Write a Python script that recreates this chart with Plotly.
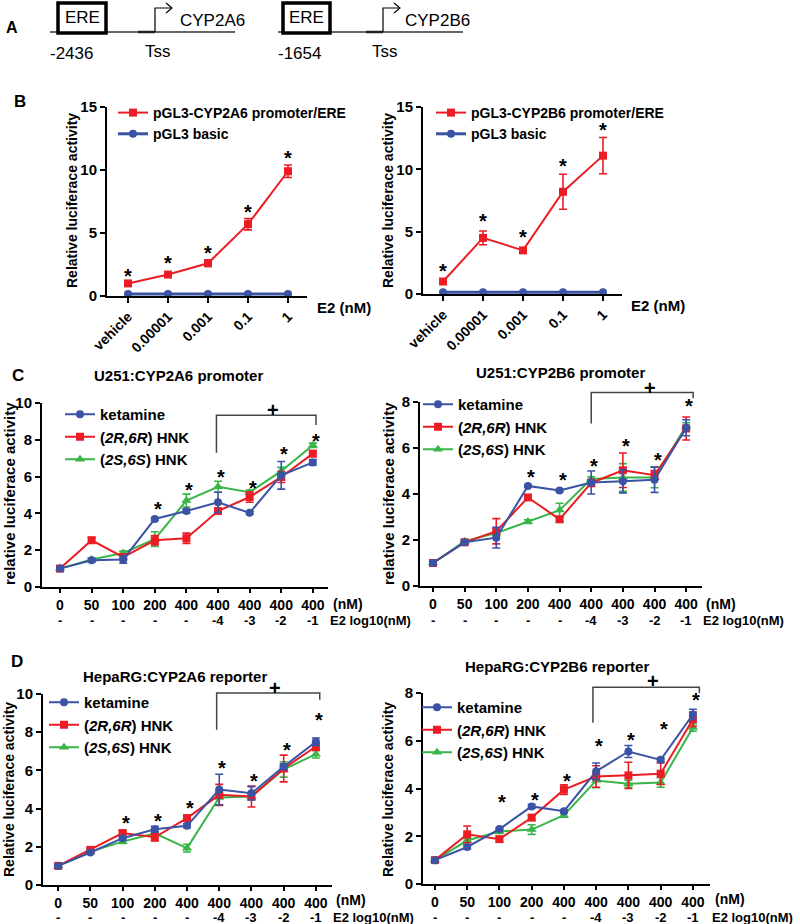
import plotly.graph_objects as go

W, H = 800, 924
def px(x): return x / W
def py(y): return 1 - y / H

RED = "#EC1C24"
BLUE = "#3A53A4"
GREEN = "#39B54A"
FONT = "Liberation Sans, Arial, sans-serif"
NARROW = "Liberation Sans Narrow, Arial Narrow, Liberation Sans, Arial, sans-serif"

# ---------------- DATA ----------------
b_categories = ["vehicle", "0.00001", "0.001", "0.1", "1"]
b_2a6_ere = [1.0, 1.7, 2.6, 5.7, 9.9]
b_2a6_ere_err = [0.1, 0.15, 0.25, 0.45, 0.5]
b_2a6_basic = [0.15, 0.15, 0.15, 0.15, 0.15]
b_2a6_stars = [1.9, 2.9, 3.7, 7.0, 11.3]
b_2b6_ere = [1.0, 4.5, 3.5, 8.2, 11.1]
b_2b6_ere_err = [0.1, 0.55, 0.2, 1.4, 1.45]
b_2b6_basic = [0.15, 0.15, 0.15, 0.15, 0.15]
b_2b6_stars = [2.2, 6.2, 4.9, 10.6, 13.5]

conc_labels = ["0", "50", "100", "200", "400", "400", "400", "400", "400"]
e2_labels = ["-", "-", "-", "-", "-", "-4", "-3", "-2", "-1"]

c1_ket = [1.0, 1.45, 1.5, 3.7, 4.13, 4.6, 4.03, 6.07, 6.77]
c1_ket_err = [0.05, 0.1, 0.2, 0.08, 0.1, 0.55, 0.08, 0.75, 0.15]
c1_rr = [1.0, 2.54, 1.63, 2.54, 2.65, 4.13, 4.89, 5.98, 7.25]
c1_rr_err = [0.05, 0.15, 0.1, 0.25, 0.28, 0.15, 0.28, 0.3, 0.15]
c1_ss = [1.0, 1.5, 1.85, 2.6, 4.7, 5.45, 5.15, 6.3, 7.7]
c1_ss_err = [0.05, 0.08, 0.1, 0.4, 0.35, 0.3, 0.12, 0.2, 0.12]
c1_star_idx = [3, 4, 5, 6, 7, 8]
c1_star_y = [4.44, 5.49, 6.2, 5.62, 7.46, 8.15]
c1_bracket = (4.95, 8.1, 7.3, 9.33, 8.8)
c1_plus = (6.75, 9.6)

c2_ket = [1.0, 1.9, 2.1, 4.35, 4.15, 4.5, 4.55, 4.62, 6.88]
c2_ket_err = [0.05, 0.05, 0.45, 0.05, 0.05, 0.5, 0.5, 0.55, 0.35]
c2_rr = [1.0, 1.9, 2.38, 3.85, 2.9, 4.48, 5.03, 4.82, 6.85]
c2_rr_err = [0.05, 0.08, 0.55, 0.1, 0.1, 0.15, 0.75, 0.2, 0.5]
c2_ss = [1.0, 1.95, 2.3, 2.8, 3.3, 4.65, 4.72, 4.72, 6.95]
c2_ss_err = [0.05, 0.05, 0.1, 0.08, 0.3, 0.1, 0.6, 0.45, 0.15]
c2_star_idx = [3, 4, 5, 6, 7, 8]
c2_star_y = [4.93, 4.78, 5.4, 6.28, 5.65, 8.0]
c2_bracket = (5.0, 8.22, 7.07, 8.41, 8.16)
c2_plus = (6.86, 8.6)

d1_ket = [1.0, 1.7, 2.45, 2.92, 3.1, 5.0, 4.8, 6.2, 7.5]
d1_ket_err = [0.05, 0.05, 0.1, 0.15, 0.1, 0.8, 0.35, 0.15, 0.2]
d1_rr = [1.0, 1.84, 2.72, 2.5, 3.5, 4.72, 4.63, 6.1, 7.25]
d1_rr_err = [0.05, 0.08, 0.12, 0.2, 0.15, 0.55, 0.55, 0.7, 0.2]
d1_ss = [1.0, 1.75, 2.27, 2.7, 1.93, 4.58, 4.63, 6.05, 6.85]
d1_ss_err = [0.05, 0.05, 0.1, 0.1, 0.2, 0.4, 0.15, 0.4, 0.2]
d1_star_idx = [2, 3, 4, 5, 6, 7, 8]
d1_star_y = [3.46, 3.58, 4.23, 6.33, 5.63, 7.26, 8.83]
d1_bracket = (4.92, 8.12, 8.13, 10.05, 9.7)
d1_plus = (6.73, 10.3)

d2_ket = [1.0, 1.55, 2.3, 3.25, 3.05, 4.72, 5.55, 5.2, 7.1]
d2_ket_err = [0.05, 0.08, 0.05, 0.08, 0.05, 0.35, 0.25, 0.08, 0.22]
d2_rr = [1.0, 2.08, 1.88, 2.78, 3.95, 4.5, 4.55, 4.62, 6.9]
d2_rr_err = [0.05, 0.35, 0.1, 0.1, 0.2, 0.45, 0.55, 0.45, 0.3]
d2_ss = [1.0, 1.82, 2.2, 2.28, 2.88, 4.33, 4.2, 4.25, 6.55]
d2_ss_err = [0.05, 0.08, 0.08, 0.2, 0.08, 0.3, 0.15, 0.2, 0.15]
d2_star_idx = [2, 3, 4, 5, 6, 7, 8]
d2_star_y = [3.6, 3.7, 4.47, 5.94, 6.19, 6.68, 7.86]
d2_bracket = (4.9, 8.2, 6.75, 8.24, 8.0)
d2_plus = (6.77, 8.5)

series_names = ["ketamine", "(<i>2R,6R</i>) HNK", "(<i>2S,6S</i>) HNK"]

# ---------------- LAYOUT GEOMETRY (pixels) ----------------
panels = [
    dict(ax="", xd=(107, 307), yd=(107, 296), xr=[-0.525, 4.475], yr=[0, 15], dt=5),
    dict(ax="2", xd=(423, 622), yd=(107, 294), xr=[-0.5, 4.475], yr=[0, 15], dt=5),
    dict(ax="3", xd=(42, 328), yd=(403, 587), xr=[-0.57, 8.48], yr=[0, 10], dt=2, row2=620),
    dict(ax="4", xd=(420, 702), yd=(402, 586), xr=[-0.41, 8.5], yr=[0, 8], dt=2, row2=620),
    dict(ax="5", xd=(43, 332), yd=(694, 885), xr=[-0.47, 8.5], yr=[0, 10], dt=2, row2=917),
    dict(ax="6", xd=(423, 710), yd=(693, 884), xr=[-0.37, 8.53], yr=[0, 8], dt=2, row2=917),
]

def vy(v, p):
    top, bot = p["yd"]
    r0, r1 = p["yr"]
    return py(bot - (v - r0) / (r1 - r0) * (bot - top))

fig = go.Figure()

def err(a):
    return dict(type="data", array=a, visible=True, thickness=1.6, width=4)

# Panel B traces
for i, (ere, ere_err, basic, lname) in enumerate([
        (b_2a6_ere, b_2a6_ere_err, b_2a6_basic, "pGL3-CYP2A6 promoter/ERE"),
        (b_2b6_ere, b_2b6_ere_err, b_2b6_basic, "pGL3-CYP2B6 promoter/ERE")]):
    ax = panels[i]["ax"]
    leg = "legend" if i == 0 else "legend2"
    fig.add_trace(go.Scatter(x=b_categories, y=ere, error_y=err(ere_err), name=lname,
                             mode="lines+markers", line=dict(color=RED, width=2),
                             marker=dict(symbol="square", size=8, color=RED),
                             xaxis="x" + ax, yaxis="y" + ax, legend=leg, cliponaxis=False))
    fig.add_trace(go.Scatter(x=b_categories, y=basic, name="pGL3 basic",
                             mode="lines+markers", line=dict(color=BLUE, width=3),
                             marker=dict(symbol="circle", size=8, color=BLUE),
                             xaxis="x" + ax, yaxis="y" + ax, legend=leg, cliponaxis=False))

# Panels C, D traces
cd_data = [
    (c1_ket, c1_ket_err, c1_rr, c1_rr_err, c1_ss, c1_ss_err),
    (c2_ket, c2_ket_err, c2_rr, c2_rr_err, c2_ss, c2_ss_err),
    (d1_ket, d1_ket_err, d1_rr, d1_rr_err, d1_ss, d1_ss_err),
    (d2_ket, d2_ket_err, d2_rr, d2_rr_err, d2_ss, d2_ss_err),
]
xidx = list(range(len(conc_labels)))
for k, (ket, ket_e, rr, rr_e, ss, ss_e) in enumerate(cd_data):
    p = panels[k + 2]
    ax = p["ax"]
    leg = "legend" + str(k + 3)
    for vals, e, color, sym, size, name, rank in [
            (ss, ss_e, GREEN, "triangle-up", 9, series_names[2], 3),
            (rr, rr_e, RED, "square", 8, series_names[1], 2),
            (ket, ket_e, BLUE, "circle", 8, series_names[0], 1)]:
        fig.add_trace(go.Scatter(x=xidx, y=vals, error_y=err(e), name=name,
                                 mode="lines+markers", line=dict(color=color, width=2),
                                 marker=dict(symbol=sym, size=size, color=color),
                                 xaxis="x" + ax, yaxis="y" + ax, legend=leg,
                                 legendrank=rank, cliponaxis=False))

# Axes
layout_axes = {}
for k, p in enumerate(panels):
    ax = p["ax"]
    common = dict(showline=True, linecolor="black", linewidth=2, ticks="outside",
                  ticklen=5, tickwidth=2, tickcolor="black", showgrid=False,
                  zeroline=False, fixedrange=True, automargin=False)
    xa = dict(common, domain=[px(p["xd"][0]), px(p["xd"][1])], anchor="y" + ax,
              range=p["xr"])
    if k < 2:
        xa.update(type="category", tickangle=-45, tickfont=dict(size=14))
    else:
        xa.update(type="linear", tickvals=xidx, ticktext=conc_labels,
                  tickfont=dict(size=14), ticklen=4)
    ya = dict(common, domain=[py(p["yd"][1]), py(p["yd"][0])], anchor="x" + ax,
              range=p["yr"], dtick=p["dt"], tick0=0, tickfont=dict(size=15))
    layout_axes["xaxis" + ax] = xa
    layout_axes["yaxis" + ax] = ya

fig.update_layout(**layout_axes)

# Legends
legend_pos = [
    ("legend", 113, 97, 14),
    ("legend2", 431, 97, 14),
    ("legend3", 60, 398, 15),
    ("legend4", 418, 388, 15),
    ("legend5", 44, 686, 15),
    ("legend6", 417, 691, 15),
]
for name, lx, ly, fs in legend_pos:
    fig.update_layout(**{name: dict(x=px(lx), y=py(ly), xanchor="left", yanchor="top",
                                    bgcolor="rgba(0,0,0,0)", font=dict(size=fs),
                                    tracegroupgap=0, itemwidth=30,
                                    traceorder="normal")})

annotations = []
shapes = []

def ann(x, y, text, size, xref="paper", yref="paper", weight="bold", family=FONT, **kw):
    d = dict(x=x, y=y, text=text, xref=xref, yref=yref, showarrow=False,
             xanchor="center", yanchor="middle",
             font=dict(size=size, family=family, color="black", weight=weight))
    d.update(kw)
    annotations.append(d)

# Panel letters
ann(px(12), py(27), "A", 16)
ann(px(20), py(102), "B", 17)
ann(px(18), py(375), "C", 17)
ann(px(17), py(661), "D", 17)

# Panel titles
ann(px(178), py(375), "U251:CYP2A6 promoter", 15)
ann(px(560), py(373), "U251:CYP2B6 promoter", 15)
ann(px(175), py(676), "HepaRG:CYP2A6 reporter", 15)
ann(px(557), py(666), "HepaRG:CYP2B6 reporter", 15)

# Y axis titles
for x, yc, text, fs in [(72, 201, "Relative luciferace activity", 14),
                        (388, 201, "Relative luciferace activity", 14),
                        (9, 494, "relative luciferace activity", 15),
                        (388, 494, "relative luciferace activity", 15),
                        (9, 790, "Relative luciferace activity", 14),
                        (388, 790, "Relative luciferace activity", 14)]:
    ann(px(x), py(yc), text, fs, textangle=-90)

# X axis extra labels
ann(px(315), py(308), "E2 (nM)", 15, xanchor="left")
ann(px(629), py(305), "E2 (nM)", 15, xanchor="left")
for x0, y1, y2 in [(331, 604, 620), (704, 604, 620), (334, 900, 917), (713, 899, 917)]:
    ann(px(x0), py(y1), "(nM)", 14, xanchor="left")
    ann(px(x0 - 3), py(y2), "E2 log10(nM)", 13, xanchor="left")

# Second row of tick labels (E2 log10 concentration) for C/D
for p in panels[2:]:
    for i, lab in zip(xidx, e2_labels):
        ann(i, py(p["row2"]), lab, 13, xref="x" + p["ax"], yref="paper")

# Stars for B (category index positions)
for k, stars in enumerate([b_2a6_stars, b_2b6_stars]):
    ax = panels[k]["ax"]
    for i, s in enumerate(stars):
        ann(i, s, "*", 20, xref="x" + ax, yref="y" + ax, yshift=-4)

# Stars, brackets for C/D
for k, (sidx, sy, br, plus) in enumerate([
        (c1_star_idx, c1_star_y, c1_bracket, c1_plus),
        (c2_star_idx, c2_star_y, c2_bracket, c2_plus),
        (d1_star_idx, d1_star_y, d1_bracket, d1_plus),
        (d2_star_idx, d2_star_y, d2_bracket, d2_plus)]):
    p = panels[k + 2]
    ax = p["ax"]
    for i, s in zip(sidx, sy):
        ann(i, s, "*", 20, xref="x" + ax, yref="y" + ax, yshift=-4, xshift=3)
    x0, x1, yl, yt, yr_ = br
    shapes.append(dict(type="path", xref="x" + ax, yref="paper",
                       path=f"M {x0},{vy(yl, p)} L {x0},{vy(yt, p)} L {x1},{vy(yt, p)} L {x1},{vy(yr_, p)}",
                       line=dict(color="#444", width=1.5)))
    ann(plus[0], vy(plus[1], p), "+", 20, xref="x" + ax, yref="paper")

# Panel A diagrams
def gene_diagram(x_off, start_label, gene, lab_x, tss_x, gene_x, ere_x0, ere_x1, arrow_x):
    shapes.append(dict(type="line", x0=px(x_off), x1=px(x_off + 185), y0=py(32), y1=py(32),
                       xref="paper", yref="paper", line=dict(color="#333", width=1.5)))
    shapes.append(dict(type="line", x0=px(arrow_x - 17), x1=px(arrow_x), y0=py(32), y1=py(32),
                       xref="paper", yref="paper", line=dict(color="#222", width=2.5)))
    shapes.append(dict(type="rect", x0=px(ere_x0), x1=px(ere_x1), y0=py(33), y1=py(3),
                       xref="paper", yref="paper", line=dict(color="black", width=3.5),
                       fillcolor="white"))
    shapes.append(dict(type="path", xref="paper", yref="paper",
                       path=f"M {px(arrow_x)},{py(32)} L {px(arrow_x)},{py(8)} L {px(arrow_x + 17)},{py(8)}",
                       line=dict(color="black", width=1.2)))
    shapes.append(dict(type="path", xref="paper", yref="paper",
                       path=f"M {px(arrow_x + 11)},{py(3)} L {px(arrow_x + 17)},{py(8)} L {px(arrow_x + 11)},{py(13)}",
                       line=dict(color="black", width=1.2)))
    for x, y, t in [((ere_x0 + ere_x1) / 2, 18, "ERE"), (gene_x, 20, gene),
                    (lab_x, 54, start_label), (tss_x, 52, "Tss")]:
        ann(px(x), py(y), t, 17, weight="normal", family=NARROW)

gene_diagram(50, "-2436", "CYP2A6", 71, 158, 212, 58, 106, 155)
gene_diagram(278, "-1654", "CYP2B6", 299, 385, 437, 283, 330, 383)

fig.update_layout(
    width=W, height=H, margin=dict(l=0, r=0, t=0, b=0, autoexpand=False),
    paper_bgcolor="white", plot_bgcolor="white",
    font=dict(family=FONT, color="black", size=14, weight="bold"),
    annotations=annotations, shapes=shapes,
)

fig.write_html("out.html", config={"displayModeBar": False},
               post_script="document.body.style.margin='0px';")
